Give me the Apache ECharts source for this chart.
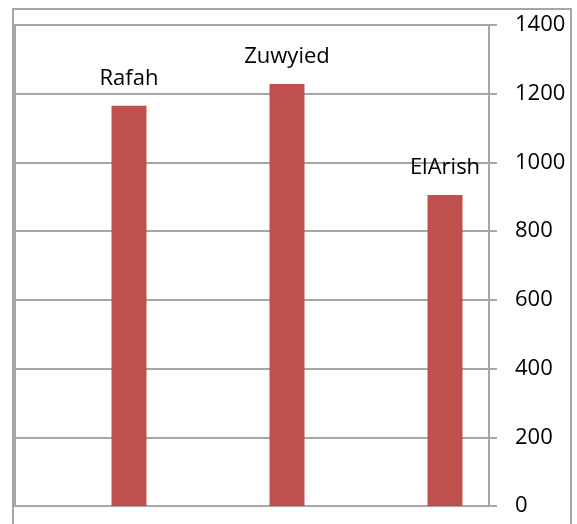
<!DOCTYPE html>
<html>
<head>
<meta charset="utf-8">
<script src="https://cdn.jsdelivr.net/npm/echarts@6/dist/echarts.min.js"></script>
<style>
  html, body { margin: 0; padding: 0; background: #fff; overflow: hidden; }
  #main { width: 577px; height: 524px; }
</style>
</head>
<body>
<div id="main"></div>
<script>
const towns = ['Rafah', 'Zuwyied', 'ElArish'];
const greenVals = [0, 0, 0];
const blueVals = [0, 0, 0];
const redVals = [1165, 1228, 905];
const yTicks = [0, 200, 400, 600, 800, 1000, 1200, 1400];

const chart = echarts.init(document.getElementById('main'));
const gray = '#a6a6a6';
const font = '"Open Sans", "Liberation Sans", sans-serif';

chart.setOption({
  animation: false,
  textStyle: { fontFamily: font },
  // outer chart frame (its bottom edge is cut off in the picture)
  graphic: [{
    type: 'polyline',
    shape: { points: [[13, 524], [13, 9], [571, 9], [571, 524]] },
    style: { fill: 'none', stroke: gray, lineWidth: 2 },
    silent: true
  }],
  grid: {
    left: 15, right: 88, top: 25, bottom: 18,
    show: false
  },
  xAxis: {
    type: 'category',
    data: towns,
    axisLine: { lineStyle: { color: gray, width: 2 } },
    axisTick: { show: false },
    axisLabel: { show: false }
  },
  yAxis: [{
    type: 'value',
    position: 'right',
    min: yTicks[0],
    max: yTicks[yTicks.length - 1],
    interval: 200,
    axisLine: { show: true, lineStyle: { color: gray, width: 2 } },
    axisTick: { show: true, length: 8, lineStyle: { color: gray, width: 2 } },
    axisLabel: {
      color: '#000', fontSize: 22, margin: 26, fontFamily: font,
      formatter: v => String(v)
    },
    splitLine: { lineStyle: { color: gray, width: 2 } }
  }, {
    // plain left edge of the plot area
    type: 'value',
    position: 'left',
    min: yTicks[0],
    max: yTicks[yTicks.length - 1],
    interval: 200,
    axisLine: { show: true, lineStyle: { color: gray, width: 2 } },
    axisTick: { show: false },
    axisLabel: { show: false },
    splitLine: { show: false }
  }],
  series: [
    { type: 'bar', data: greenVals, barWidth: 35, barGap: '0%', itemStyle: { color: '#9BBB59' } },
    { type: 'bar', data: blueVals, barWidth: 35, barGap: '0%', itemStyle: { color: '#4F81BD' } },
    {
      type: 'bar', data: redVals, barWidth: 35, barGap: '0%',
      itemStyle: { color: '#C0504D' },
      label: {
        show: true, position: 'top', distance: 16, formatter: '{b}',
        color: '#000', fontSize: 22, lineHeight: 22, fontFamily: font
      }
    }
  ]
});
</script>
</body>
</html>
